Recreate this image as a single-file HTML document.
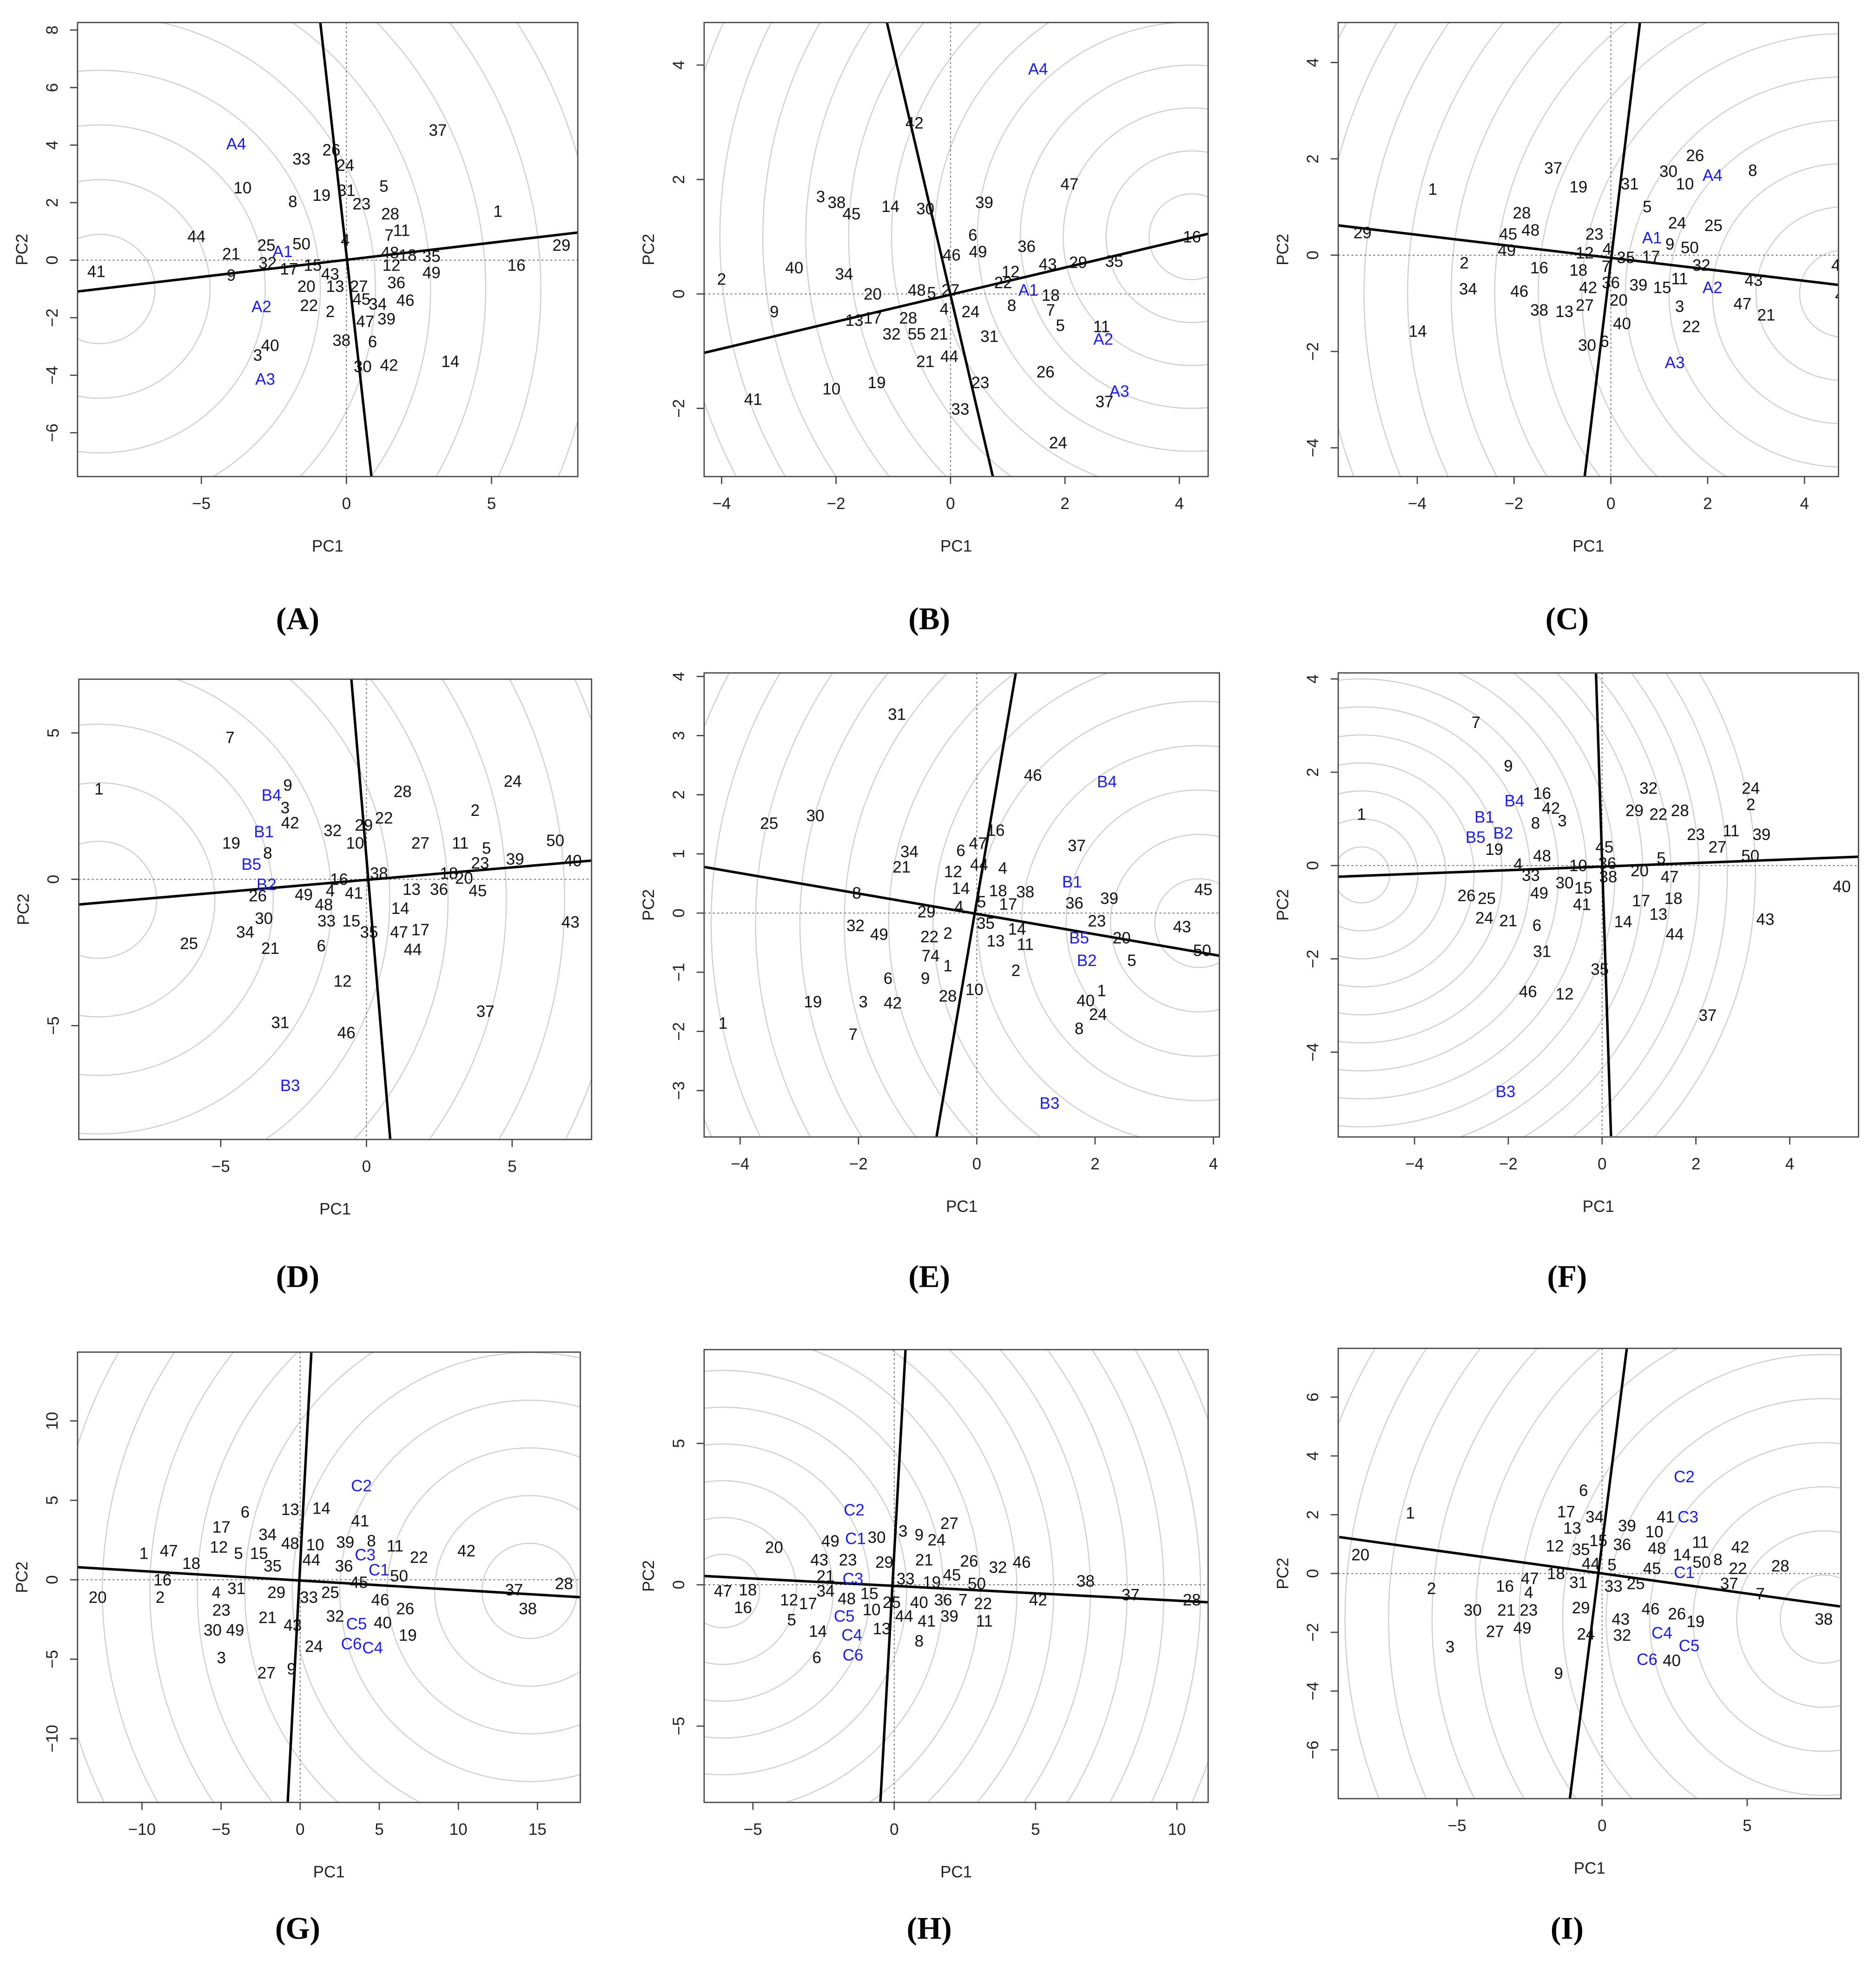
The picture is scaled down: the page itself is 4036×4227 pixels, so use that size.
<!DOCTYPE html>
<html><head><meta charset="utf-8"><style>
html,body{margin:0;padding:0;background:#fff;width:4036px;height:4227px;overflow:hidden}
svg{display:block}
text{font-family:"Liberation Sans",Arial,sans-serif}
text.serif{font-family:"Liberation Serif","Times New Roman",serif}
</style></head><body>
<svg id="fig" xmlns="http://www.w3.org/2000/svg" width="4036" height="4227" viewBox="0 0 1500 1571" preserveAspectRatio="none">
<rect width="1500" height="1571" fill="#fff"/>
</svg>
<script>
// ---------- data (label, PC1, PC2) ----------
const A_pts=[["37",3.15,4.52],["A4",-3.8,4.04],["33",-1.55,3.52],["26",-0.52,3.83],["24",-0.04,3.3],["10",-3.58,2.52],["8",-1.85,2.04],["19",-0.86,2.26],["31",0,2.43],["5",1.29,2.57],["23",0.52,1.96],["28",1.51,1.61],["1",5.22,1.7],["11",1.9,1.04],["44",-5.17,0.83],["7",1.47,0.87],["4",-0.04,0.7],["29",7.41,0.52],["21",-3.97,0.22],["25",-2.76,0.52],["50",-1.55,0.57],["A1",-2.2,0.3],["48",1.5,0.26],["18",2.11,0.17],["35",2.93,0.13],["32",-2.72,-0.09],["17",-1.98,-0.3],["15",-1.16,-0.17],["12",1.55,-0.17],["16",5.86,-0.17],["49",2.93,-0.43],["41",-8.62,-0.39],["9",-3.97,-0.52],["43",-0.56,-0.48],["20",-1.38,-0.91],["13",-0.39,-0.91],["27",0.43,-0.91],["36",1.72,-0.78],["45",0.52,-1.35],["34",1.08,-1.52],["46",2.03,-1.39],["A2",-2.93,-1.61],["22",-1.29,-1.57],["2",-0.56,-1.78],["47",0.65,-2.13],["39",1.38,-2.04],["38",-0.17,-2.78],["6",0.9,-2.83],["40",-2.63,-2.96],["3",-3.06,-3.3],["30",0.56,-3.7],["42",1.47,-3.65],["14",3.58,-3.52],["A3",-2.8,-4.13]];
const B_pts=[["A4",1.53,3.93],["42",-0.63,2.99],["3",-2.27,1.7],["38",-1.99,1.6],["45",-1.73,1.4],["14",-1.05,1.53],["30",-0.44,1.49],["39",0.59,1.6],["47",2.08,1.92],["6",0.39,1.03],["49",0.48,0.74],["46",0.02,0.68],["36",1.33,0.83],["16",4.22,1.0],["40",-2.73,0.46],["43",1.7,0.52],["29",2.23,0.55],["35",2.86,0.57],["12",1.05,0.39],["34",-1.86,0.35],["2",-4.0,0.26],["22",0.92,0.2],["48",-0.59,0.07],["5",-0.33,0.02],["27",0,0.07],["A1",1.36,0.07],["18",1.75,-0.02],["20",-1.36,0],["8",1.07,-0.2],["4",-0.11,-0.26],["24",0.35,-0.31],["7",1.75,-0.28],["9",-3.08,-0.31],["13",-1.68,-0.46],["17",-1.36,-0.42],["28",-0.74,-0.42],["5",1.92,-0.55],["11",2.64,-0.57],["A2",2.67,-0.79],["32",-1.03,-0.7],["55",-0.59,-0.7],["21",-0.2,-0.7],["31",0.68,-0.74],["21",-0.44,-1.18],["44",-0.02,-1.09],["26",1.66,-1.36],["23",0.52,-1.55],["19",-1.29,-1.55],["10",-2.08,-1.66],["41",-3.45,-1.84],["A3",2.95,-1.7],["37",2.69,-1.88],["33",0.17,-2.01],["24",1.88,-2.6]];
const C_pts=[["26",1.74,2.07],["37",-1.19,1.81],["30",1.19,1.74],["A4",2.1,1.66],["8",2.93,1.76],["1",-3.68,1.37],["19",-0.67,1.42],["31",0.39,1.48],["10",1.53,1.48],["5",0.75,1.01],["28",-1.84,0.88],["24",1.37,0.67],["25",2.12,0.62],["29",-5.13,0.47],["45",-2.12,0.44],["48",-1.66,0.52],["23",-0.34,0.44],["A1",0.85,0.36],["9",1.22,0.23],["50",1.63,0.16],["49",-2.15,0.1],["12",-0.54,0.05],["4",-0.08,0.13],["35",0.31,-0.05],["17",0.83,-0.03],["2",-3.03,-0.16],["16",-1.48,-0.26],["18",-0.67,-0.31],["7",-0.1,-0.23],["32",1.87,-0.21],["44",4.74,-0.21],["36",0,-0.57],["43",2.95,-0.52],["11",1.42,-0.49],["39",0.57,-0.62],["15",1.06,-0.67],["A2",2.1,-0.67],["34",-2.95,-0.7],["46",-1.89,-0.75],["42",-0.47,-0.67],["41",4.82,-0.83],["20",0.16,-0.93],["27",-0.54,-1.04],["38",-1.48,-1.14],["13",-0.96,-1.17],["3",1.42,-1.06],["47",2.72,-1.01],["21",3.21,-1.24],["40",0.23,-1.42],["22",1.66,-1.48],["14",-3.99,-1.58],["30",-0.49,-1.87],["6",-0.13,-1.79],["A3",1.32,-2.23]];
const D_pts=[["7",-4.68,4.85],["1",-9.18,3.09],["9",-2.7,3.22],["B4",-3.26,2.88],["3",-2.79,2.45],["42",-2.62,1.93],["28",1.24,3.0],["24",5.02,3.35],["2",3.73,2.36],["B1",-3.52,1.63],["32",-1.16,1.67],["29",-0.09,1.85],["22",0.6,2.1],["10",-0.39,1.24],["19",-4.64,1.24],["27",1.85,1.24],["11",3.22,1.24],["5",4.12,1.07],["50",6.48,1.33],["8",-3.39,0.9],["23",3.9,0.56],["39",5.1,0.69],["40",7.08,0.64],["B5",-3.95,0.52],["38",0.43,0.21],["18",2.83,0.21],["20",3.35,0.04],["16",-0.94,0],["B2",-3.43,-0.17],["36",2.49,-0.34],["13",1.55,-0.34],["45",3.82,-0.39],["26",-3.73,-0.56],["49",-2.15,-0.52],["4",-1.24,-0.39],["41",-0.43,-0.47],["48",-1.46,-0.86],["14",1.16,-0.99],["43",7.0,-1.46],["30",-3.52,-1.33],["33",-1.37,-1.42],["15",-0.52,-1.42],["35",0.09,-1.8],["47",1.12,-1.8],["17",1.85,-1.72],["34",-4.16,-1.8],["25",-6.09,-2.19],["21",-3.3,-2.36],["6",-1.55,-2.27],["44",1.59,-2.4],["12",-0.82,-3.48],["37",4.08,-4.51],["31",-2.96,-4.89],["46",-0.69,-5.24],["B3",-2.62,-7.04]];
const E_pts=[["31",-1.35,3.36],["46",0.95,2.33],["B4",2.2,2.22],["25",-3.51,1.52],["30",-2.73,1.65],["16",0.32,1.4],["37",1.69,1.14],["47",0.02,1.18],["6",-0.27,1.06],["34",-1.14,1.04],["21",-1.27,0.78],["44",0.04,0.82],["4",0.44,0.76],["12",-0.4,0.7],["B1",1.61,0.53],["14",-0.27,0.42],["18",0.36,0.38],["38",0.82,0.36],["8",-2.03,0.34],["5",0.08,0.19],["17",0.53,0.15],["4",-0.3,0.11],["36",1.65,0.17],["39",2.24,0.25],["45",3.83,0.4],["29",-0.85,0.02],["32",-2.05,-0.21],["35",0.15,-0.17],["23",2.03,-0.13],["49",-1.65,-0.36],["14",0.68,-0.27],["B5",1.73,-0.42],["20",2.45,-0.42],["22",-0.8,-0.4],["2",-0.49,-0.34],["13",0.32,-0.47],["11",0.82,-0.53],["43",3.47,-0.23],["50",3.81,-0.63],["B2",1.86,-0.8],["5",2.62,-0.8],["74",-0.78,-0.72],["1",-0.49,-0.89],["2",0.66,-0.97],["6",-1.5,-1.1],["9",-0.87,-1.1],["28",-0.49,-1.4],["10",-0.04,-1.29],["1",2.11,-1.31],["40",1.84,-1.48],["3",-1.92,-1.5],["19",-2.77,-1.5],["42",-1.42,-1.52],["24",2.05,-1.71],["1",-4.29,-1.86],["8",1.73,-1.95],["7",-2.09,-2.05],["B3",1.23,-3.21]];
const F_pts=[["7",-2.69,3.07],["9",-2.0,2.14],["B4",-1.87,1.39],["16",-1.28,1.55],["42",-1.09,1.23],["3",-0.85,0.96],["24",3.17,1.66],["32",0.99,1.66],["2",3.17,1.31],["29",0.69,1.18],["22",1.2,1.1],["28",1.66,1.18],["B1",-2.51,1.04],["1",-5.13,1.1],["8",-1.42,0.91],["B2",-2.11,0.7],["B5",-2.7,0.61],["23",2.0,0.67],["11",2.75,0.75],["39",3.4,0.67],["27",2.46,0.4],["19",-2.3,0.35],["45",0.05,0.4],["48",-1.28,0.21],["5",1.26,0.16],["50",3.16,0.21],["10",-0.51,0],["36",0.11,0.05],["4",-1.79,0.03],["20",0.8,-0.11],["38",0.13,-0.24],["47",1.44,-0.24],["33",-1.52,-0.21],["30",-0.8,-0.37],["15",-0.4,-0.48],["49",-1.34,-0.59],["40",5.11,-0.45],["26",-2.89,-0.64],["25",-2.46,-0.7],["18",1.52,-0.7],["17",0.83,-0.75],["41",-0.43,-0.83],["13",1.2,-1.04],["24",-2.51,-1.12],["21",-2.0,-1.18],["14",0.45,-1.2],["43",3.48,-1.15],["6",-1.39,-1.28],["44",1.55,-1.47],["31",-1.28,-1.84],["35",-0.05,-2.22],["46",-1.58,-2.7],["12",-0.8,-2.75],["37",2.25,-3.21],["B3",-2.06,-4.84]];
const G_pts=[["C2",3.87,5.93],["13",-0.63,4.43],["14",1.34,4.51],["6",-3.48,4.27],["17",-4.98,3.32],["41",3.79,3.72],["34",-2.06,2.85],["48",-0.63,2.29],["10",0.95,2.21],["39",2.85,2.37],["8",4.5,2.45],["12",-5.14,2.06],["5",-3.9,1.66],["15",-2.6,1.66],["11",6.0,2.13],["C3",4.11,1.58],["22",7.51,1.42],["42",10.51,1.82],["1",-9.88,1.66],["47",-8.3,1.82],["18",-6.88,1.03],["35",-1.74,0.87],["44",0.71,1.26],["36",2.77,0.87],["C1",4.98,0.63],["50",6.25,0.24],["45",3.72,-0.16],["16",-8.7,0],["28",16.68,-0.24],["37",13.52,-0.63],["20",-12.8,-1.1],["2",-8.85,-1.1],["4",-5.3,-0.79],["31",-4.03,-0.55],["29",-1.5,-0.79],["33",0.55,-1.1],["25",1.9,-0.79],["46",5.06,-1.26],["26",6.64,-1.82],["38",14.39,-1.82],["23",-4.98,-1.9],["21",-2.06,-2.37],["43",-0.47,-2.85],["32",2.21,-2.29],["C5",3.56,-2.77],["40",5.22,-2.69],["19",6.8,-3.48],["30",-5.53,-3.16],["49",-4.11,-3.16],["24",0.87,-4.19],["C6",3.24,-4.03],["C4",4.58,-4.27],["3",-4.98,-4.9],["27",-2.13,-5.85],["9",-0.55,-5.61]];
const H_pts=[["C2",-1.42,2.65],["27",1.95,2.17],["3",0.31,1.9],["9",0.88,1.77],["24",1.5,1.59],["49",-2.26,1.55],["C1",-1.37,1.64],["30",-0.62,1.68],["20",-4.25,1.33],["43",-2.65,0.88],["23",-1.64,0.88],["29",-0.35,0.8],["21",1.06,0.88],["26",2.65,0.84],["32",3.67,0.62],["46",4.51,0.8],["21",-2.43,0.31],["C3",-1.46,0.22],["33",0.4,0.22],["19",1.33,0.09],["45",2.04,0.35],["50",2.92,0.04],["38",6.77,0.13],["37",8.36,-0.35],["28",10.53,-0.53],["47",-6.06,-0.22],["18",-5.18,-0.18],["34",-2.43,-0.22],["15",-0.88,-0.31],["12",-3.72,-0.53],["17",-3.05,-0.66],["48",-1.68,-0.49],["16",-5.35,-0.8],["10",-0.8,-0.88],["25",-0.09,-0.62],["40",0.88,-0.62],["36",1.73,-0.53],["7",2.43,-0.53],["22",3.14,-0.66],["42",5.09,-0.53],["5",-3.63,-1.24],["C5",-1.77,-1.11],["44",0.35,-1.11],["41",1.15,-1.28],["39",1.95,-1.11],["11",3.19,-1.28],["14",-2.7,-1.64],["C4",-1.5,-1.77],["13",-0.44,-1.55],["8",0.88,-1.99],["6",-2.74,-2.57],["C6",-1.46,-2.48]];
const I_pts=[["C2",2.83,3.3],["6",-0.64,2.83],["1",-6.61,2.06],["17",-1.24,2.1],["34",-0.26,1.93],["41",2.19,1.93],["C3",2.96,1.93],["39",0.86,1.63],["13",-1.03,1.55],["10",1.8,1.42],["11",3.39,1.07],["42",4.76,0.9],["12",-1.63,0.94],["35",-0.73,0.82],["15",-0.13,1.12],["36",0.69,0.99],["48",1.89,0.86],["14",2.75,0.64],["50",3.43,0.39],["8",3.99,0.47],["22",4.68,0.17],["28",6.14,0.26],["20",-8.33,0.64],["44",-0.39,0.34],["5",0.34,0.3],["45",1.72,0.17],["C1",2.83,0.04],["47",-2.49,-0.17],["18",-1.59,0],["37",4.38,-0.34],["7",5.45,-0.69],["33",0.39,-0.43],["25",1.16,-0.34],["16",-3.35,-0.43],["4",-2.53,-0.64],["2",-5.88,-0.51],["31",-0.82,-0.3],["30",-4.46,-1.24],["21",-3.3,-1.24],["23",-2.53,-1.24],["29",-0.73,-1.16],["46",1.67,-1.2],["26",2.58,-1.37],["19",3.22,-1.63],["43",0.64,-1.55],["38",7.64,-1.55],["27",-3.69,-1.97],["49",-2.75,-1.85],["24",-0.56,-2.06],["32",0.69,-2.1],["C4",2.06,-2.02],["C5",3.0,-2.45],["3",-5.24,-2.49],["C6",1.55,-2.92],["40",2.4,-2.96],["9",-1.5,-3.39]];
const A_axes=[[-0.9,8.26,0.86,-7.5],[-9.27,-1.09,7.97,0.96]], A_center=[-8.5,-1.0], A_step=1.9;
const B_axes=[[-1.11,4.74,0.74,-3.19],[-4.31,-1.03,4.5,1.05]], B_center=[4.22,1.0], B_step=0.75;
const C_axes=[[0.6,4.82,-0.54,-4.59],[-5.65,0.62,4.72,-0.62]], C_center=[4.8,-0.8], C_step=0.9;
const D_axes=[[-0.52,6.87,0.82,-8.93],[-9.87,-0.86,7.73,0.64]], D_center=[-9.2,-0.7], D_step=2.0;
const E_axes=[[0.66,4.06,-0.68,-3.78],[-4.61,0.78,4.1,-0.72]], E_center=[3.76,-0.17], E_step=0.75;
const F_axes=[[-0.13,4.12,0.19,-5.8],[-5.64,-0.24,5.48,0.19]], F_center=[-5.13,-0.2], F_step=0.6;
const G_axes=[[0.71,14.39,-0.79,-14.07],[-14.07,0.79,17.7,-1.1]], G_center=[14.5,-0.7], G_step=3.0;
const H_axes=[[0.4,8.32,-0.49,-7.7],[-6.73,0.31,11.1,-0.62]], H_center=[-6.06,-0.22], H_step=1.3;
const I_axes=[[0.86,7.73,-1.12,-7.73],[-9.06,1.24,8.2,-1.12]], I_center=[7.64,-1.55], I_step=1.5;
const A_xt=[-5,0,5], A_yt=[-6,-4,-2,0,2,4,6,8];
const B_xt=[-4,-2,0,2,4], B_yt=[-2,0,2,4];
const C_xt=[-4,-2,0,2,4], C_yt=[-4,-2,0,2,4];
const D_xt=[-5,0,5], D_yt=[-5,0,5];
const E_xt=[-4,-2,0,2,4], E_yt=[-3,-2,-1,0,1,2,3,4];
const F_xt=[-4,-2,0,2,4], F_yt=[-4,-2,0,2,4];
const G_xt=[-10,-5,0,5,10,15], G_yt=[-10,-5,0,5,10];
const H_xt=[-5,0,5,10], H_yt=[-5,0,5];
const I_xt=[-5,0,5], I_yt=[-6,-4,-2,0,2,4,6];

const panels=[
 {id:"A",box:[62,18,462,381],x0:277,y0:208,sx:23.2,sy:23,pts:A_pts,axes:A_axes,c:A_center,st:A_step,xt:A_xt,yt:A_yt,lx:238,ly:494},
 {id:"B",box:[563,18,966,381],x0:760,y0:235,sx:45.75,sy:45.75,pts:B_pts,axes:B_axes,c:B_center,st:B_step,xt:B_xt,yt:B_yt,lx:743,ly:494},
 {id:"C",box:[1070,18,1470,381],x0:1288,y0:204,sx:38.7,sy:38.5,pts:C_pts,axes:C_axes,c:C_center,st:C_step,xt:C_xt,yt:C_yt,lx:1253,ly:494},
 {id:"D",box:[63,543,473,911],x0:293,y0:703,sx:23.3,sy:23.4,pts:D_pts,axes:D_axes,c:D_center,st:D_step,xt:D_xt,yt:D_yt,lx:238,ly:1020},
 {id:"E",box:[563,538,975,909],x0:781,y0:730,sx:47.3,sy:47.3,pts:E_pts,axes:E_axes,c:E_center,st:E_step,xt:E_xt,yt:E_yt,lx:743,ly:1020},
 {id:"F",box:[1070,538,1486,909],x0:1281,y0:692,sx:37.5,sy:37.3,pts:F_pts,axes:F_axes,c:F_center,st:F_step,xt:F_xt,yt:F_yt,lx:1253,ly:1020},
 {id:"G",box:[62,1081,464,1441],x0:240,y0:1263,sx:12.65,sy:12.7,pts:G_pts,axes:G_axes,c:G_center,st:G_step,xt:G_xt,yt:G_yt,lx:238,ly:1541},
 {id:"H",box:[563,1079,966,1441],x0:715,y0:1267,sx:22.6,sy:22.6,pts:H_pts,axes:H_axes,c:H_center,st:H_step,xt:H_xt,yt:H_yt,lx:743,ly:1541},
 {id:"I",box:[1070,1078,1472,1438],x0:1281,y0:1258,sx:23.2,sy:23.5,pts:I_pts,axes:I_axes,c:I_center,st:I_step,xt:I_xt,yt:I_yt,lx:1253,ly:1541}
];
const NS="http://www.w3.org/2000/svg";
const svg=document.getElementById("fig");
function mk(tag,attrs,parent){const e=document.createElementNS(NS,tag);for(const k in attrs)e.setAttribute(k,attrs[k]);(parent||svg).appendChild(e);return e;}
const defs=mk("defs",{});
panels.forEach(p=>{
 const [x1,y1,x2,y2]=p.box;
 const X=v=>p.x0+v*p.sx, Y=v=>p.y0-v*p.sy;
 const g=mk("g",{});
 
 
 const cp=mk("clipPath",{id:"clip"+p.id},defs);
 mk("rect",{x:x1,y:y1,width:x2-x1,height:y2-y1},cp);
 const inner=mk("g",{"clip-path":"url(#clip"+p.id+")"},g);
 const cg=mk("g",{},inner);
 
 
 for(let i=1;i<=14;i++){
  mk("ellipse",{cx:X(p.c[0]),cy:Y(p.c[1]),rx:i*p.st*p.sx,ry:i*p.st*p.sy,fill:"none",stroke:"#cfcfcf","stroke-width":0.9},cg);
 }
 const zx=mk("line",{x1:X(0),y1:y1,x2:X(0),y2:y2,stroke:"#666","stroke-width":0.7,"stroke-dasharray":"1.5,2"},inner);
 
 
 const zy=mk("line",{x1:x1,y1:Y(0),x2:x2,y2:Y(0),stroke:"#666","stroke-width":0.7,"stroke-dasharray":"1.5,2"},inner);
 
 
 p.axes.forEach((a,i)=>{
  const l=mk("line",{x1:X(a[0]),y1:Y(a[1]),x2:X(a[2]),y2:Y(a[3]),stroke:"#000","stroke-width":2},inner);
  
  
 });
 p.pts.forEach(pt=>{
  const blue=/^[A-C]/.test(pt[0]);
  const t=mk("text",{x:X(pt[1]),y:Y(pt[2])+4.5,"text-anchor":"middle","font-size":13,fill:blue?"#1a1aff":"#111"},inner);
  t.textContent=pt[0];
  
  
 });
 const bx=mk("rect",{x:x1,y:y1,width:x2-x1,height:y2-y1,fill:"none",stroke:"#444","stroke-width":1},g);
 
 
 p.xt.forEach(v=>{
  mk("line",{x1:X(v),y1:y2,x2:X(v),y2:y2+6,stroke:"#444","stroke-width":1},g);
  const t=mk("text",{x:X(v),y:y2+26,"text-anchor":"middle","font-size":13,fill:"#222"},g);
  t.textContent=v<0?"\u2212"+(-v):String(v);
  
  
 });
 p.yt.forEach(v=>{
  mk("line",{x1:x1-6,y1:Y(v),x2:x1,y2:Y(v),stroke:"#444","stroke-width":1},g);
  const t=mk("text",{x:x1-16,y:Y(v),"text-anchor":"middle","font-size":13,fill:"#222",transform:"rotate(-90 "+(x1-16)+" "+Y(v)+")"},g);
  t.textContent=v<0?"\u2212"+(-v):String(v);
  
  
 });
 const xl=mk("text",{x:(x1+x2)/2,y:y2+60,"text-anchor":"middle","font-size":13,fill:"#222"},g);
 xl.textContent="PC1";
 
 
 const yx=x1-40, yy=(y1+y2)/2;
 const yl=mk("text",{x:yx,y:yy,"text-anchor":"middle","font-size":13,fill:"#222",transform:"rotate(-90 "+yx+" "+yy+")"},g);
 yl.textContent="PC2";
 
 
 const pl=mk("text",{x:p.lx,y:p.ly+9,"text-anchor":"middle","font-size":25,"font-weight":"bold",fill:"#000",class:"serif"},g);
 pl.textContent="("+p.id+")";
 
 
});
</script>
</body></html>
